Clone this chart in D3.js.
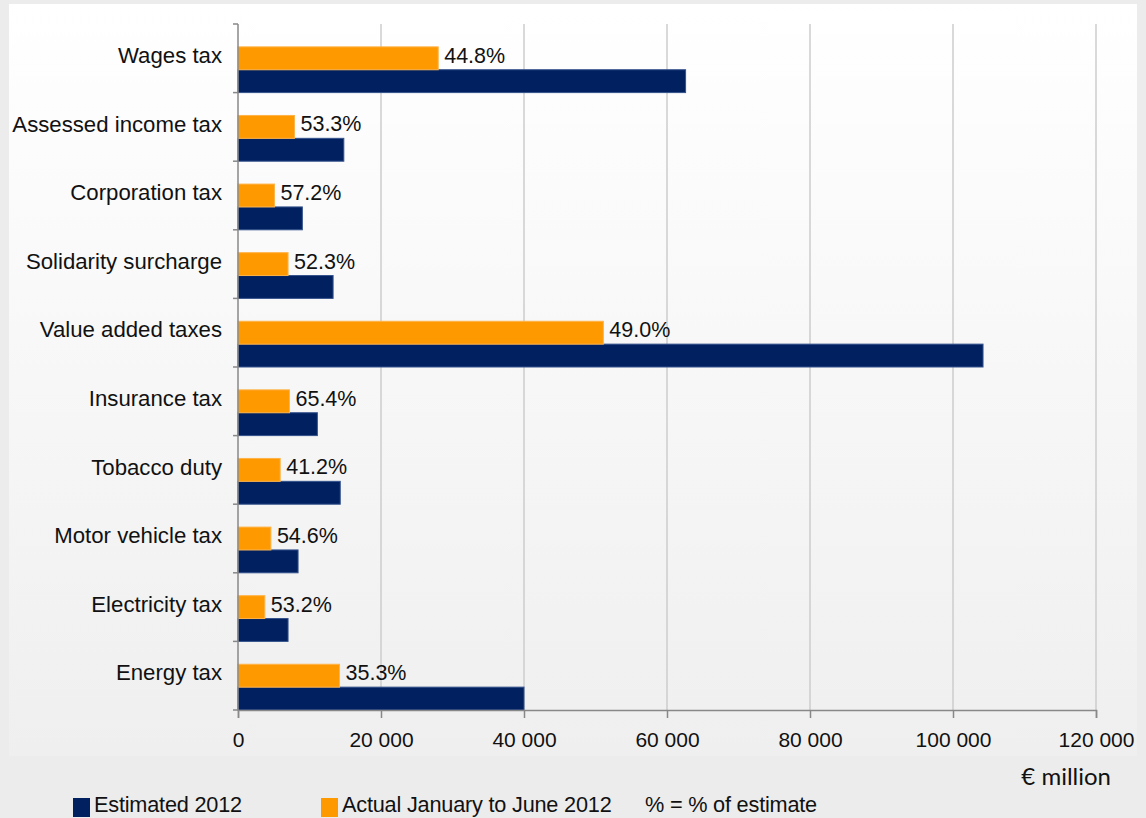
<!DOCTYPE html>
<html>
<head>
<meta charset="utf-8">
<script src="https://cdn.jsdelivr.net/npm/d3@7"></script>
<style>
  body { margin:0; background:#ececec; }
  svg { display:block; }
  text { font-family:"Liberation Sans", Arial, sans-serif; fill:#111; }
</style>
</head>
<body>
<svg id="chart" width="1146" height="818"></svg>
<script>
"use strict";

// values in € million
const categories = ["Wages tax", "Assessed income tax", "Corporation tax", "Solidarity surcharge",
  "Value added taxes", "Insurance tax", "Tobacco duty", "Motor vehicle tax", "Electricity tax", "Energy tax"];
const estimated2012 = [62600, 14800, 9000, 13300, 104200, 11100, 14300, 8400, 7000, 40000];
const actualJanJun = [28000, 7900, 5100, 7000, 51100, 7200, 5900, 4600, 3750, 14200];
const pctLabels = ["44.8%", "53.3%", "57.2%", "52.3%", "49.0%", "65.4%", "41.2%", "54.6%", "53.2%", "35.3%"];
const xTicks = [0, 20000, 40000, 60000, 80000, 100000, 120000];

const W = 1146, H = 818;
const m = {top:24, right:50, bottom:108, left:238};
const svg = d3.select("#chart");

// panel with soft gradient
let defs = svg.append("defs");
let grad = defs.append("linearGradient").attr("id", "panelGrad")
  .attr("x1", 0).attr("y1", 0).attr("x2", 0).attr("y2", 1);
grad.append("stop").attr("offset", "0%").attr("stop-color", "#ffffff");
grad.append("stop").attr("offset", "100%").attr("stop-color", "#efefef");
svg.append("rect").attr("x", 9).attr("y", 4).attr("width", 1128).attr("height", 752)
  .attr("fill", "url(#panelGrad)");

const x = d3.scaleLinear().domain([0, 120000]).range([m.left, W - m.right]);
const y = d3.scaleBand().domain(categories).range([m.top, H - m.bottom]).padding(0);
const bw = y.bandwidth();

const loc = d3.formatLocale({decimal:".", thousands:"\u00a0", grouping:[3], currency:["", ""]});
const fmt = loc.format(",d");

// grid lines
svg.append("g").selectAll("line").data(xTicks.slice(1)).join("line")
  .attr("x1", d => x(d)).attr("x2", d => x(d))
  .attr("y1", m.top).attr("y2", H - m.bottom)
  .attr("stroke", "#cccccc").attr("stroke-width", 1.5);

// bars
let bars = svg.append("g");
bars.selectAll(".est").data(categories).join("rect").attr("class", "est")
  .attr("x", x(0)).attr("y", d => y(d) + bw * 2 / 3)
  .attr("width", (d, i) => x(estimated2012[i]) - x(0)).attr("height", bw / 3)
  .attr("fill", "#002060").attr("stroke", "#34528c").attr("stroke-width", 1);
bars.selectAll(".act").data(categories).join("rect").attr("class", "act")
  .attr("x", x(0)).attr("y", d => y(d) + bw / 3)
  .attr("width", (d, i) => x(actualJanJun[i]) - x(0)).attr("height", bw / 3)
  .attr("fill", "#ff9900").attr("stroke", "#ffb347").attr("stroke-width", 1);

// percent labels
svg.append("g").selectAll("text").data(categories).join("text")
  .attr("x", (d, i) => x(actualJanJun[i]) + 6)
  .attr("y", d => y(d) + bw / 2 - 3)
  .attr("dy", "0.35em")
  .style("font-size", "21.5px")
  .text((d, i) => pctLabels[i]);

// bottom axis
let xAxis = d3.axisBottom(x).tickValues(xTicks).tickFormat(fmt).tickSize(8).tickPadding(14);
let gx = svg.append("g").attr("transform", `translate(0,${H - m.bottom})`).call(xAxis);
gx.selectAll("path, line").attr("stroke", "#888888").attr("stroke-width", 1.5);
gx.selectAll("text").style("font-size", "21px").style("font-family", "Liberation Sans, Arial, sans-serif")
  .attr("fill", "#111");

// left axis: line, boundary ticks, labels
let gy = svg.append("g");
gy.append("line").attr("x1", m.left).attr("x2", m.left)
  .attr("y1", m.top).attr("y2", H - m.bottom)
  .attr("stroke", "#888888").attr("stroke-width", 1.5);
gy.selectAll(".tk").data(categories.concat(["end"])).join("line").attr("class", "tk")
  .attr("x1", m.left - 5).attr("x2", m.left)
  .attr("y1", d => d === "end" ? H - m.bottom : y(d))
  .attr("y2", d => d === "end" ? H - m.bottom : y(d))
  .attr("stroke", "#888888").attr("stroke-width", 1.5);
gy.selectAll("text").data(categories).join("text")
  .attr("x", m.left - 16).attr("y", d => y(d) + bw / 2 - 3)
  .attr("dy", "0.35em").attr("text-anchor", "end")
  .style("font-size", "22.2px")
  .text(d => d);

// unit
svg.append("text").attr("x", 1111).attr("y", 785).attr("text-anchor", "end")
  .style("font-family", "Lato, 'Open Sans', sans-serif").style("font-size", "24px")
  .text("€ million");

// legend
const legend = [
  {label:"Estimated 2012", color:"#002060", x:73},
  {label:"Actual January to June 2012", color:"#ff9900", x:321}
];
let lg = svg.append("g");
lg.selectAll("rect").data(legend).join("rect")
  .attr("x", d => d.x).attr("y", 798).attr("width", 17).attr("height", 19)
  .attr("fill", d => d.color);
lg.selectAll("text").data(legend).join("text")
  .attr("x", d => d.x + 21).attr("y", 812)
  .style("font-size", "21.7px").style("letter-spacing", "-0.2px")
  .text(d => d.label);
lg.append("text").attr("x", 645).attr("y", 812)
  .style("font-size", "21.7px").style("letter-spacing", "-0.2px")
  .text("% = % of estimate");
</script>
</body>
</html>
